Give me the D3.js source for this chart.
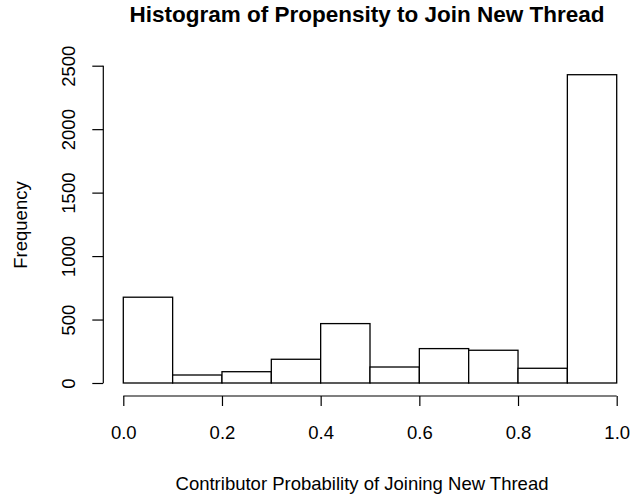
<!DOCTYPE html>
<meta charset="utf-8">
<style>
body { margin: 0; background: #fff; }
svg { font-family: "Liberation Sans", Arial, sans-serif; }
.bar { fill: #fff; stroke: #000; stroke-width: 1.3px; }
.axis path, .axis line { stroke: #000; stroke-width: 1.2px; }
.axis text { font-size: 18.5px; fill: #000; }
</style>
<svg width="631" height="494"></svg>
<script src="https://d3js.org/d3.v7.min.js"></script>
<script>

var breaks = [0, 0.1, 0.2, 0.3, 0.4, 0.5, 0.6, 0.7, 0.8, 0.9, 1.0];
var counts = [676, 63, 89, 187, 468, 126, 271, 258, 116, 2429];
var xTicks = [0, 0.2, 0.4, 0.6, 0.8, 1.0];
var yTicks = [0, 500, 1000, 1500, 2000, 2500];

var svg = d3.select("svg");

var x = d3.scaleLinear().domain([0, 1]).range([123.3, 616.7]);
var y = d3.scaleLinear().domain([0, 2500]).range([383, 65.7]);

svg.selectAll("rect.bar")
  .data(counts)
  .enter().append("rect")
    .attr("class", "bar")
    .attr("x", function(d, i) { return x(breaks[i]); })
    .attr("width", function(d, i) { return x(breaks[i + 1]) - x(breaks[i]); })
    .attr("y", function(d) { return y(d); })
    .attr("height", function(d) { return y(0) - y(d); });

// x axis, detached like base R
var xAxis = svg.append("g")
    .attr("class", "axis")
    .attr("transform", "translate(0,396)")
    .call(d3.axisBottom(x).tickValues(xTicks).tickFormat(d3.format(".1f")).tickSizeOuter(0).tickSize(10));
xAxis.select(".domain").attr("d", "M" + x(0) + ",0H" + x(1));
xAxis.selectAll(".tick text").attr("y", 43).attr("dy", null);

var yAxis = svg.append("g")
    .attr("class", "axis")
    .attr("transform", "translate(103.3,0)")
    .call(d3.axisLeft(y).tickValues(yTicks).tickFormat(d3.format("d")).tickSizeOuter(0).tickSize(11));
yAxis.select(".domain").attr("d", "M0," + y(0) + "V" + y(2500));
yAxis.selectAll(".tick text")
    .attr("x", 0).attr("dy", null)
    .attr("transform", "translate(-35,0) rotate(-90)")
    .attr("text-anchor", "middle")
    .attr("dominant-baseline", "central");

svg.append("text")
    .attr("x", 367).attr("y", 22)
    .attr("text-anchor", "middle")
    .style("font-weight", "bold").style("font-size", "22.5px")
    .text("Histogram of Propensity to Join New Thread");

svg.append("text")
    .attr("x", 362).attr("y", 490)
    .attr("text-anchor", "middle")
    .style("font-size", "18.5px")
    .text("Contributor Probability of Joining New Thread");

svg.append("text")
    .attr("transform", "translate(27,225) rotate(-90)")
    .attr("text-anchor", "middle")
    .style("font-size", "18.5px")
    .text("Frequency");

</script>
